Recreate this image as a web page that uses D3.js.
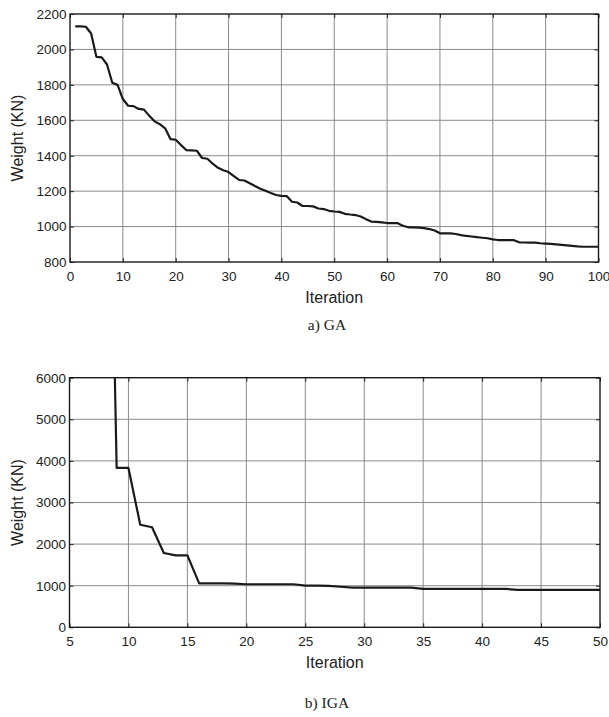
<!DOCTYPE html>
<html>
<head>
<meta charset="utf-8">
<script src="https://cdn.jsdelivr.net/npm/d3@7"></script>
<style>
  body { margin: 0; background: #fff; }
  svg { display: block; }
  .tick text { font-family: "Liberation Sans", Arial, sans-serif; font-size: 13.5px; fill: #222; }
  .lbl { font-family: "Liberation Sans", Arial, sans-serif; font-size: 16px; fill: #222; }
  .cap { font-family: "Liberation Serif", "Times New Roman", serif; font-size: 15.5px; fill: #222; }
</style>
</head>
<body>
<div id="chart"></div>
<script>
// a) GA, iterations 1..100
var gaIter = d3.range(1, 101);
var gaWeight = [
  2130, 2130, 2128, 2090, 1958, 1955, 1915, 1812, 1800, 1720,
  1682, 1680, 1664, 1660, 1625, 1594, 1578, 1555, 1494, 1490,
  1460, 1432, 1430, 1428, 1387, 1383, 1355, 1332, 1318, 1308,
  1285, 1263, 1260, 1245, 1229, 1214, 1202, 1190, 1178, 1173,
  1172, 1140, 1136, 1116, 1116, 1114, 1102, 1099, 1089, 1085,
  1083, 1072, 1068, 1065, 1057, 1042, 1028, 1026, 1024, 1020,
  1020, 1019, 1005, 996, 995, 994, 991, 986, 978, 962,
  962, 962, 958, 952, 947, 944, 940, 937, 934, 928,
  924, 924, 924, 923, 911, 910, 909, 909, 906, 904,
  902, 900, 897, 894, 891, 888, 886, 886, 886, 886
];
var gaXTicks = [0, 10, 20, 30, 40, 50, 60, 70, 80, 90, 100];
var gaYTicks = [800, 1000, 1200, 1400, 1600, 1800, 2000, 2200];

// b) IGA, iterations 8..50 (the start runs off the top)
var igaIter = d3.range(8, 51);
var igaWeight = [
  18000, 3830, 3830, 2466, 2404, 1786, 1730, 1730, 1055, 1055,
  1055, 1050, 1035, 1035, 1035, 1035, 1035, 1000, 1000, 995,
  975, 955, 955, 955, 955, 955, 955, 925, 925, 925,
  925, 925, 925, 925, 925, 900, 900, 900, 900, 900,
  900, 900, 900
];
var igaXTicks = [5, 10, 15, 20, 25, 30, 35, 40, 45, 50];
var igaYTicks = [0, 1000, 2000, 3000, 4000, 5000, 6000];

var W = 609, H = 717;
var svg = d3.select("#chart").append("svg").attr("width", W).attr("height", H);

function panel(opt) {
  var x = d3.scaleLinear().domain(opt.xDomain).range([opt.left, opt.right]);
  var y = d3.scaleLinear().domain(opt.yDomain).range([opt.bottom, opt.top]);
  var g = svg.append("g");
  var fmt = d3.format("d");

  // grid
  g.append("g").selectAll("line").data(opt.xTicks.slice(1, -1)).enter().append("line")
    .attr("x1", d => x(d)).attr("x2", d => x(d))
    .attr("y1", opt.top).attr("y2", opt.bottom)
    .attr("stroke", "#8a8a8a").attr("stroke-width", 1);
  g.append("g").selectAll("line").data(opt.yTicks.slice(1, -1)).enter().append("line")
    .attr("y1", d => y(d)).attr("y2", d => y(d))
    .attr("x1", opt.left).attr("x2", opt.right)
    .attr("stroke", "#8a8a8a").attr("stroke-width", 1);

  // line
  g.append("clipPath").attr("id", opt.id).append("rect")
    .attr("x", opt.left).attr("y", opt.top)
    .attr("width", opt.right - opt.left).attr("height", opt.bottom - opt.top);
  var line = d3.line().x(d => x(d[0])).y(d => y(d[1]));
  g.append("path")
    .datum(d3.zip(opt.xs, opt.ys))
    .attr("clip-path", "url(#" + opt.id + ")")
    .attr("d", line)
    .attr("fill", "none")
    .attr("stroke", "#1a1a1a")
    .attr("stroke-width", 2.2)
    .attr("stroke-linejoin", "round");

  // axes, MATLAB style ticks pointing inward
  var ax = function (a) {
    a.select(".domain").remove();
    a.selectAll(".tick line").attr("stroke", "#222");
  };
  g.append("g").attr("transform", `translate(0,${opt.bottom})`)
    .call(d3.axisBottom(x).tickValues(opt.xTicks).tickFormat(fmt).tickSizeInner(-4).tickSizeOuter(0).tickPadding(9))
    .call(ax);
  g.append("g").attr("transform", `translate(0,${opt.top})`)
    .call(d3.axisTop(x).tickValues(opt.xTicks).tickSizeInner(-4).tickSizeOuter(0).tickFormat(""))
    .call(ax);
  g.append("g").attr("transform", `translate(${opt.left},0)`)
    .call(d3.axisLeft(y).tickValues(opt.yTicks).tickFormat(fmt).tickSizeInner(-4).tickSizeOuter(0).tickPadding(3.5))
    .call(ax);
  g.append("g").attr("transform", `translate(${opt.right},0)`)
    .call(d3.axisRight(y).tickValues(opt.yTicks).tickSizeInner(-4).tickSizeOuter(0).tickFormat(""))
    .call(ax);

  g.selectAll(".tick text").attr("font-family", null).attr("font-size", null);

  // frame
  g.append("rect")
    .attr("x", opt.left).attr("y", opt.top)
    .attr("width", opt.right - opt.left).attr("height", opt.bottom - opt.top)
    .attr("fill", "none").attr("stroke", "#1a1a1a").attr("stroke-width", 1.4);

  g.append("text").attr("class", "lbl")
    .attr("text-anchor", "middle")
    .attr("transform", `translate(22.5,${(opt.top + opt.bottom) / 2}) rotate(-90)`)
    .text("Weight (KN)");
  g.append("text").attr("class", "lbl")
    .attr("text-anchor", "middle")
    .attr("x", (opt.left + opt.right) / 2).attr("y", opt.bottom + 41)
    .text("Iteration");
  g.append("text").attr("class", "cap")
    .attr("text-anchor", "middle")
    .attr("x", 327).attr("y", opt.capY)
    .text(opt.caption);
}

panel({
  id: "clipA", xs: gaIter, ys: gaWeight,
  xDomain: [0, 100], yDomain: [800, 2200],
  xTicks: gaXTicks, yTicks: gaYTicks,
  left: 70, right: 598.5, top: 14, bottom: 262,
  capY: 330, caption: "a) GA"
});

panel({
  id: "clipB", xs: igaIter, ys: igaWeight,
  xDomain: [5, 50], yDomain: [0, 6000],
  xTicks: igaXTicks, yTicks: igaYTicks,
  left: 69.5, right: 600, top: 377.7, bottom: 627.3,
  capY: 708, caption: "b) IGA"
});
</script>
</body>
</html>
